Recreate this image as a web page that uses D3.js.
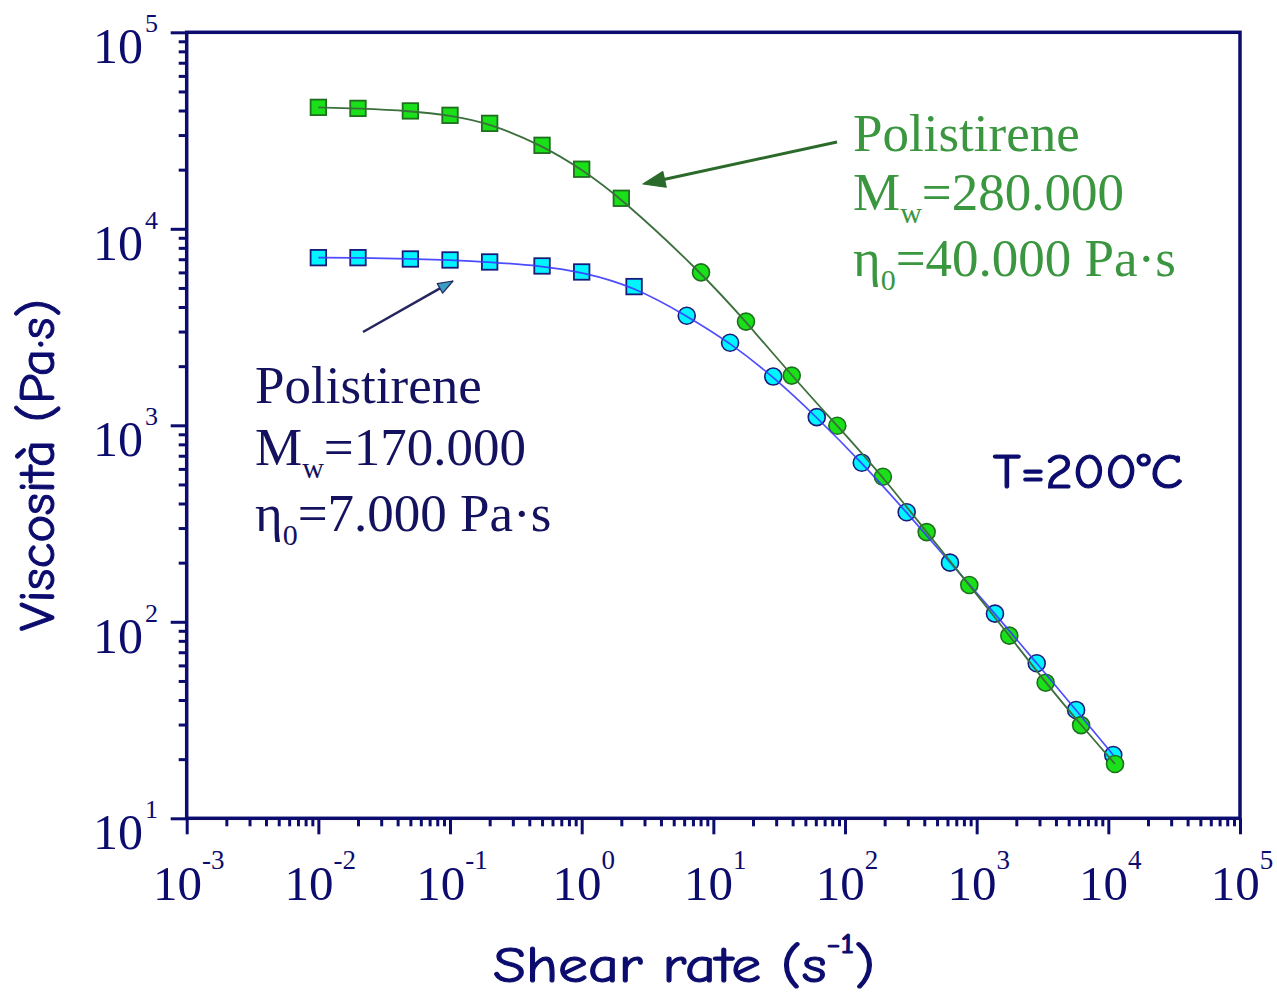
<!DOCTYPE html>
<html>
<head>
<meta charset="utf-8">
<script src="https://cdn.jsdelivr.net/npm/d3@7/dist/d3.min.js"></script>
<style>
  html,body{margin:0;padding:0;background:#fff;}
  svg{display:block;}
</style>
</head>
<body>
<svg id="chart" width="1277" height="996"></svg>
<script>
// ---------------- DATA ----------------
// Polistirene Mw=280.000 (green)
const greenSqRate = [0.01, 0.02, 0.05, 0.1, 0.2, 0.5, 1, 2];
const greenSqEta  = [41500, 41000, 39800, 37800, 34400, 26600, 20100, 14300];
const greenCiRate = [8.06, 17.7, 39.4, 87.4, 194, 417, 879, 1770, 3340, 6210, 11240];
const greenCiEta  = [6000, 3370, 1790, 995, 547, 286, 154, 85, 49, 29.8, 18.9];
// Polistirene Mw=170.000 (blue)
const blueSqRate = [0.01, 0.02, 0.05, 0.1, 0.2, 0.5, 1, 2.5];
const blueSqEta  = [7130, 7130, 7020, 6940, 6780, 6470, 6030, 5080];
const blueCiRate = [6.28, 13.4, 28.5, 61, 134, 294, 627, 1377, 2858, 5690, 10900];
const blueCiEta  = [3610, 2630, 1770, 1100, 645, 361, 200, 110, 61.5, 35.6, 21.0];
// Axis tick exponents
const xExponents = [-3, -2, -1, 0, 1, 2, 3, 4, 5];
const yExponents = [1, 2, 3, 4, 5];

// ---------------- SETUP ----------------
const svg = d3.select("#chart");
const navy = "#0c0c6e";
const x = d3.scaleLog().domain([1e-3, 1e5]).range([186.7, 1240]);
const y = d3.scaleLog().domain([10, 1e5]).range([818.3, 32.3]);

function minorTicks(lo, hi) {
  const out = [];
  for (let e = lo; e < hi; e++) for (let m = 2; m <= 9; m++) out.push(m * Math.pow(10, e));
  return out;
}
const xMajor = xExponents.map(e => Math.pow(10, e));
const yMajor = yExponents.map(e => Math.pow(10, e));

// ---------------- AXES ----------------
function styleAxis(g) {
  g.select(".domain").remove();
  g.selectAll("line").attr("stroke", navy).attr("stroke-width", 3);
}
svg.append("g").attr("transform", "translate(0,818.3)")
  .call(d3.axisBottom(x).tickValues(minorTicks(-3, 5)).tickSize(8).tickFormat(""))
  .call(styleAxis);
svg.append("g").attr("transform", "translate(0,818.3)")
  .call(d3.axisBottom(x).tickValues(xMajor).tickSize(16).tickFormat(""))
  .call(styleAxis);
svg.append("g").attr("transform", "translate(186.7,0)")
  .call(d3.axisLeft(y).tickValues(minorTicks(1, 5)).tickSize(8).tickFormat(""))
  .call(styleAxis);
svg.append("g").attr("transform", "translate(186.7,0)")
  .call(d3.axisLeft(y).tickValues(yMajor).tickSize(16).tickFormat(""))
  .call(styleAxis);

// frame
svg.append("rect")
  .attr("x", x(1e-3)).attr("y", y(1e5))
  .attr("width", x(1e5) - x(1e-3)).attr("height", y(10) - y(1e5))
  .attr("fill", "none").attr("stroke", navy).attr("stroke-width", 3.5);

// tick labels
const xl = svg.append("g").attr("font-family", "'Liberation Serif','Times New Roman',serif").attr("fill", navy);
xExponents.forEach(e => {
  const t = xl.append("text").attr("x", x(Math.pow(10, e)) + 2).attr("y", 900).attr("text-anchor", "middle");
  t.append("tspan").attr("font-size", 49).text("10");
  t.append("tspan").attr("font-size", 27).attr("dy", -31).text(String(e));
});
const yl = svg.append("g").attr("font-family", "'Liberation Serif','Times New Roman',serif").attr("fill", navy);
yExponents.forEach(e => {
  const t = yl.append("text").attr("x", 158).attr("y", y(Math.pow(10, e)) + 31).attr("text-anchor", "end");
  t.append("tspan").attr("font-size", 50).text("10");
  t.append("tspan").attr("font-size", 26).attr("dy", -31).attr("dx", 2).text(String(e));
});

// helper: horizontally scale a text element to span a given width
function fitWidth(sel, x0, yb, width, rotate) {
  const w = sel.node().getComputedTextLength();
  const k = width / w;
  if (rotate) {
    sel.attr("x", 0).attr("y", 0).attr("text-anchor", "middle")
      .attr("transform", `translate(${x0},${yb}) rotate(-90) scale(${k},1)`);
  } else {
    sel.attr("x", 0).attr("y", 0)
      .attr("transform", `translate(${x0},${yb}) scale(${k},1)`);
  }
}

// axis titles
const comic = "'Comic Sans MS','Comic Neue','DejaVu Sans',sans-serif";
const xt = svg.append("text")
  .attr("font-family", comic).attr("font-size", 50).attr("fill", navy)
  .attr("stroke", navy).attr("stroke-width", 1.1);
xt.append("tspan").text("Shear rate (s");
xt.append("tspan").attr("font-size", 29).attr("dy", -29).text("-1");
xt.append("tspan").attr("dy", 29).text(")");
fitWidth(xt, 493, 982, 382, false);

const yt = svg.append("text")
  .attr("font-family", comic).attr("font-size", 50).attr("fill", navy)
  .attr("stroke", navy).attr("stroke-width", 1.0)
  .text("Viscosità (Pa·s)");
fitWidth(yt, 54, 465, 332, true);

// ---------------- MARKERS ----------------
const greenFill = "#19e019", greenStroke = "#1f6f1f";
const cyanFill = "#00f5ff", cyanStroke = "#1a1a7a";
const sq = 15.5, r = 8.5;
function squares(rates, etas, fill, stroke) {
  svg.append("g").selectAll("rect").data(rates.map((d, i) => [d, etas[i]])).join("rect")
    .attr("x", d => x(d[0]) - sq / 2).attr("y", d => y(d[1]) - sq / 2)
    .attr("width", sq).attr("height", sq)
    .attr("fill", fill).attr("stroke", stroke).attr("stroke-width", 1.8);
}
function circles(rates, etas, fill, stroke) {
  svg.append("g").selectAll("circle").data(rates.map((d, i) => [d, etas[i]])).join("circle")
    .attr("cx", d => x(d[0])).attr("cy", d => y(d[1])).attr("r", r)
    .attr("fill", fill).attr("stroke", stroke).attr("stroke-width", 1.6);
}
squares(blueSqRate, blueSqEta, cyanFill, cyanStroke);
circles(blueCiRate, blueCiEta, cyanFill, cyanStroke);
squares(greenSqRate, greenSqEta, greenFill, greenStroke);
circles(greenCiRate, greenCiEta, greenFill, greenStroke);

// ---------------- LINES ----------------
const line = d3.line().x(d => x(d[0])).y(d => y(d[1])).curve(d3.curveBasis);
const bluePts = blueSqRate.map((d, i) => [d, blueSqEta[i]]).concat(blueCiRate.map((d, i) => [d, blueCiEta[i]]));
const greenPts = greenSqRate.map((d, i) => [d, greenSqEta[i]]).concat(greenCiRate.map((d, i) => [d, greenCiEta[i]]));
svg.append("path").datum(bluePts).attr("d", line)
  .attr("fill", "none").attr("stroke", "#3a3aff").attr("stroke-width", 1.7).attr("opacity", 0.9);
svg.append("path").datum(greenPts).attr("d", line)
  .attr("fill", "none").attr("stroke", "#3b6f3b").attr("stroke-width", 1.8);

// ---------------- ARROWS ----------------
function arrow(x1, y1, x2, y2, len, half, lineColor, lw, headFill, headStroke) {
  const a = Math.atan2(y2 - y1, x2 - x1);
  const bx = x2 - len * Math.cos(a), by = y2 - len * Math.sin(a);
  svg.append("line").attr("x1", x1).attr("y1", y1).attr("x2", bx + 2 * Math.cos(a)).attr("y2", by + 2 * Math.sin(a))
    .attr("stroke", lineColor).attr("stroke-width", lw);
  const p = [[x2, y2],
    [bx + half * Math.sin(a), by - half * Math.cos(a)],
    [bx - half * Math.sin(a), by + half * Math.cos(a)]];
  svg.append("polygon").attr("points", p.map(q => q.join(",")).join(" "))
    .attr("fill", headFill).attr("stroke", headStroke).attr("stroke-width", 1.2).attr("stroke-linejoin", "round");
}
arrow(837, 142, 643, 184, 22, 8, "#2b6a2b", 3, "#2b6a2b", "#2b6a2b");
arrow(363, 332, 453, 281, 15, 5.5, "#25255f", 2.5, "#3a9ec4", "#25255f");

// ---------------- ANNOTATIONS ----------------
const serif = "'Liberation Serif','Times New Roman',serif";
function label(x0, ys, color, mw, eta) {
  const g = svg.append("g").attr("font-family", serif).attr("font-size", 53).attr("fill", color);
  g.append("text").attr("x", x0).attr("y", ys[0]).text("Polistirene");
  const t2 = g.append("text").attr("x", x0).attr("y", ys[1]);
  t2.append("tspan").text("M");
  t2.append("tspan").attr("font-size", 30).attr("dy", 13).text("w");
  t2.append("tspan").attr("dy", -13).text("=" + mw);
  const t3 = g.append("text").attr("x", x0).attr("y", ys[2]);
  t3.append("tspan").text("η");
  t3.append("tspan").attr("font-size", 30).attr("dy", 14).text("0");
  t3.append("tspan").attr("dy", -14).text("=" + eta + " Pa·s");
}
label(853, [151, 210, 276], "#3b9640", "280.000", "40.000");
label(255, [403, 465, 531], "#14125e", "170.000", "7.000");

const tt = svg.append("text")
  .attr("font-family", comic).attr("font-size", 48).attr("fill", navy)
  .attr("stroke", navy).attr("stroke-width", 1.2)
  .text("T=200°C");
fitWidth(tt, 993, 488, 190, false);
</script>
</body>
</html>
